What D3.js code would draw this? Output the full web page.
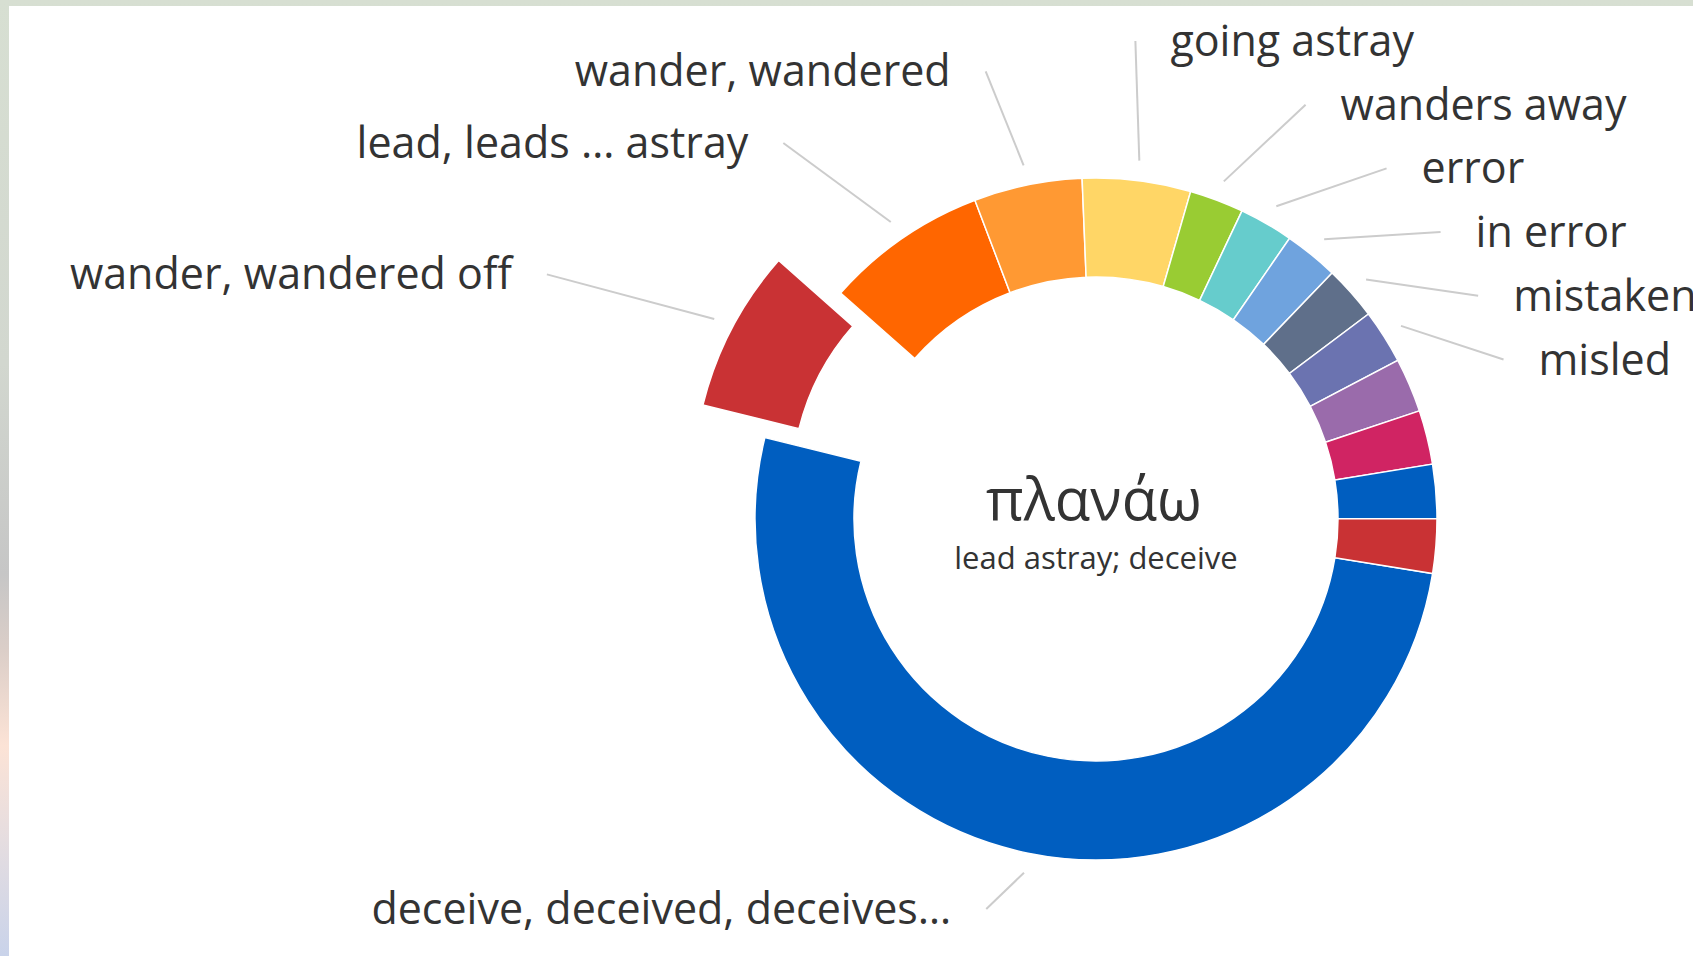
<!DOCTYPE html>
<html>
<head>
<meta charset="utf-8">
<title>πλανάω</title>
<script src="https://cdn.jsdelivr.net/npm/d3@7"></script>
<style>
    body { margin: 0; overflow: hidden; }
    .label { font-family: "Open Sans", "Noto Sans", sans-serif; fill: #333; }
</style>
</head>
<body>
<script>
// glosses for the word, biggest first, in the order the ring is drawn
var senses = ["deceive, deceived, deceives…", "wander, wandered off", "lead, leads … astray",
    "wander, wandered", "going astray", "wanders away", "error", "in error", "mistaken",
    "misled", "", "", "", ""];
var counts = [20, 3, 3, 2, 2, 1, 1, 1, 1, 1, 1, 1, 1, 1];
var colours = ["#005ec0", "#c93234", "#ff6600", "#ff9933", "#ffd666", "#99cc33",
    "#66cccc", "#6fa3de", "#5f6f8a", "#6b73b0", "#9a6bab", "#d02463"];
var slicedIndex = 1;
var lemma = "πλανάω";
var gloss = "lead astray; deceive";

function myfunc(){
    var width = 1693,
        height = 956,
        cx = 1096,
        cy = 519,
        outer = 341,
        inner = 242,
        sliceOffset = 70;

    var svg = d3.select("body")
        .append("svg")
        .attr("width", width)
        .attr("height", height);

    //page frame - coloured strip on the left and top
    var grad = svg.append("defs").append("linearGradient")
        .attr("id", "frame")
        .attr("x1", 0).attr("y1", 0).attr("x2", 0).attr("y2", 1);
    [[0, "#d7dfd2"], [0.38, "#d2d7cf"], [0.6, "#c6c6c6"], [0.68, "#dbcec8"],
     [0.78, "#fce3d6"], [0.88, "#e5dde0"], [1, "#c9d3ea"]].forEach(function(s){
        grad.append("stop").attr("offset", s[0]).attr("stop-color", s[1]);
    });
    svg.append("rect").attr("width", width).attr("height", height).attr("fill", "url(#frame)");
    svg.append("rect").attr("x", 9).attr("y", 6)
        .attr("width", width - 9).attr("height", height - 6)
        .attr("fill", "#fff");

    var data = senses.map(function(s, i){
        return {name: s, value: counts[i], index: i};
    });

    var start = 99.2 * Math.PI / 180;
    var pie = d3.pie()
        .sort(null)
        .value(function(d){ return d.value; })
        .startAngle(start)
        .endAngle(start + 2 * Math.PI);

    var arcs = pie(data);

    var arc = d3.arc()
        .innerRadius(inner)
        .outerRadius(outer);

    function mid(d){ return (d.startAngle + d.endAngle) / 2; }
    function shift(d){
        if (d.index != slicedIndex) return [0, 0];
        var a = mid(d);
        return [sliceOffset * Math.sin(a), -sliceOffset * Math.cos(a)];
    }

    var ring = svg.append("g")
        .attr("transform", "translate(" + cx + "," + cy + ")");

    ring.selectAll(".slice")
        .data(arcs)
        .enter()
        .append("path")
        .attr("class", "slice")
        .attr("d", arc)
        .attr("transform", function(d){
            var s = shift(d);
            return "translate(" + s[0] + "," + s[1] + ")";
        })
        .attr("fill", function(d, i){ return colours[i % colours.length]; })
        .attr("stroke", "#fff")
        .attr("stroke-width", 1.5);

    //labels: wanted place on an ellipse round the ring, then spread so they don't overlap
    //labels pushed together into a column get their x from a circle instead
    var yRad = 457, xRad = 550, step = 63.7, top = 41, bottom = 909,
        colCy = cy - 20, colRad = 464, gap = 35;
    var labels = arcs.filter(function(d){ return d.data.name != ""; }).map(function(d){
        var a = mid(d), s = shift(d);
        return {
            d: d,
            a: a,
            right: Math.sin(a) >= 0,
            target: cy - yRad * Math.cos(a) + s[1],
            x: cx + xRad * Math.sin(a) + s[0],
            x0: cx + (outer + 20) * Math.sin(a) + s[0],
            y0: cy - (outer + 20) * Math.cos(a) + s[1]
        };
    });

    function spread(items){
        items.sort(function(a, b){ return a.target - b.target; });
        var groups = items.map(function(it){ return [it]; });
        function place(g){
            var m = d3.mean(g, function(it){ return it.target; });
            var span = (g.length - 1) * step;
            return Math.max(top, Math.min(bottom - span, m - span / 2));
        }
        var merged = true;
        while (merged){
            merged = false;
            for (var i = 0; i < groups.length - 1; i++){
                var endA = place(groups[i]) + (groups[i].length - 1) * step;
                if (endA + step > place(groups[i + 1])){
                    groups.splice(i, 2, groups[i].concat(groups[i + 1]));
                    merged = true;
                    break;
                }
            }
        }
        groups.forEach(function(g){
            var s = place(g);
            g.forEach(function(it, k){
                it.y = s + k * step;
                if (g.length > 1){
                    var dy = Math.min(colRad, Math.abs(it.y - colCy));
                    var dx = Math.sqrt(colRad * colRad - dy * dy);
                    it.x = it.right ? cx + dx - gap : cx - dx + gap;
                }
            });
        });
    }
    spread(labels.filter(function(l){ return l.right; }));
    spread(labels.filter(function(l){ return !l.right; }));

    svg.selectAll(".connector")
        .data(labels)
        .enter()
        .append("line")
        .attr("class", "connector")
        .attr("x1", function(l){ return l.x0; })
        .attr("y1", function(l){ return l.y0; })
        .attr("x2", function(l){ return l.x; })
        .attr("y2", function(l){ return l.y; })
        .attr("stroke", "#cccccc")
        .attr("stroke-width", 2);

    svg.selectAll(".sense")
        .data(labels)
        .enter()
        .append("text")
        .attr("class", "label sense")
        .attr("x", function(l){ return l.right ? l.x + gap : l.x - gap; })
        .attr("y", function(l){ return l.y; })
        .attr("dy", "0.35em")
        .attr("text-anchor", function(l){ return l.right ? "start" : "end"; })
        .attr("font-size", 43)
        .text(function(l){ return l.d.data.name; });

    //word in the middle
    svg.append("text")
        .attr("class", "label")
        .attr("x", cx - 2)
        .attr("y", cy + 1)
        .attr("text-anchor", "middle")
        .attr("font-size", 58)
        .text(lemma);
    svg.append("text")
        .attr("class", "label")
        .attr("x", cx)
        .attr("y", cy + 50)
        .attr("text-anchor", "middle")
        .attr("font-size", 31)
        .text(gloss);
}

window.onload = myfunc;
</script>
</body>
</html>
